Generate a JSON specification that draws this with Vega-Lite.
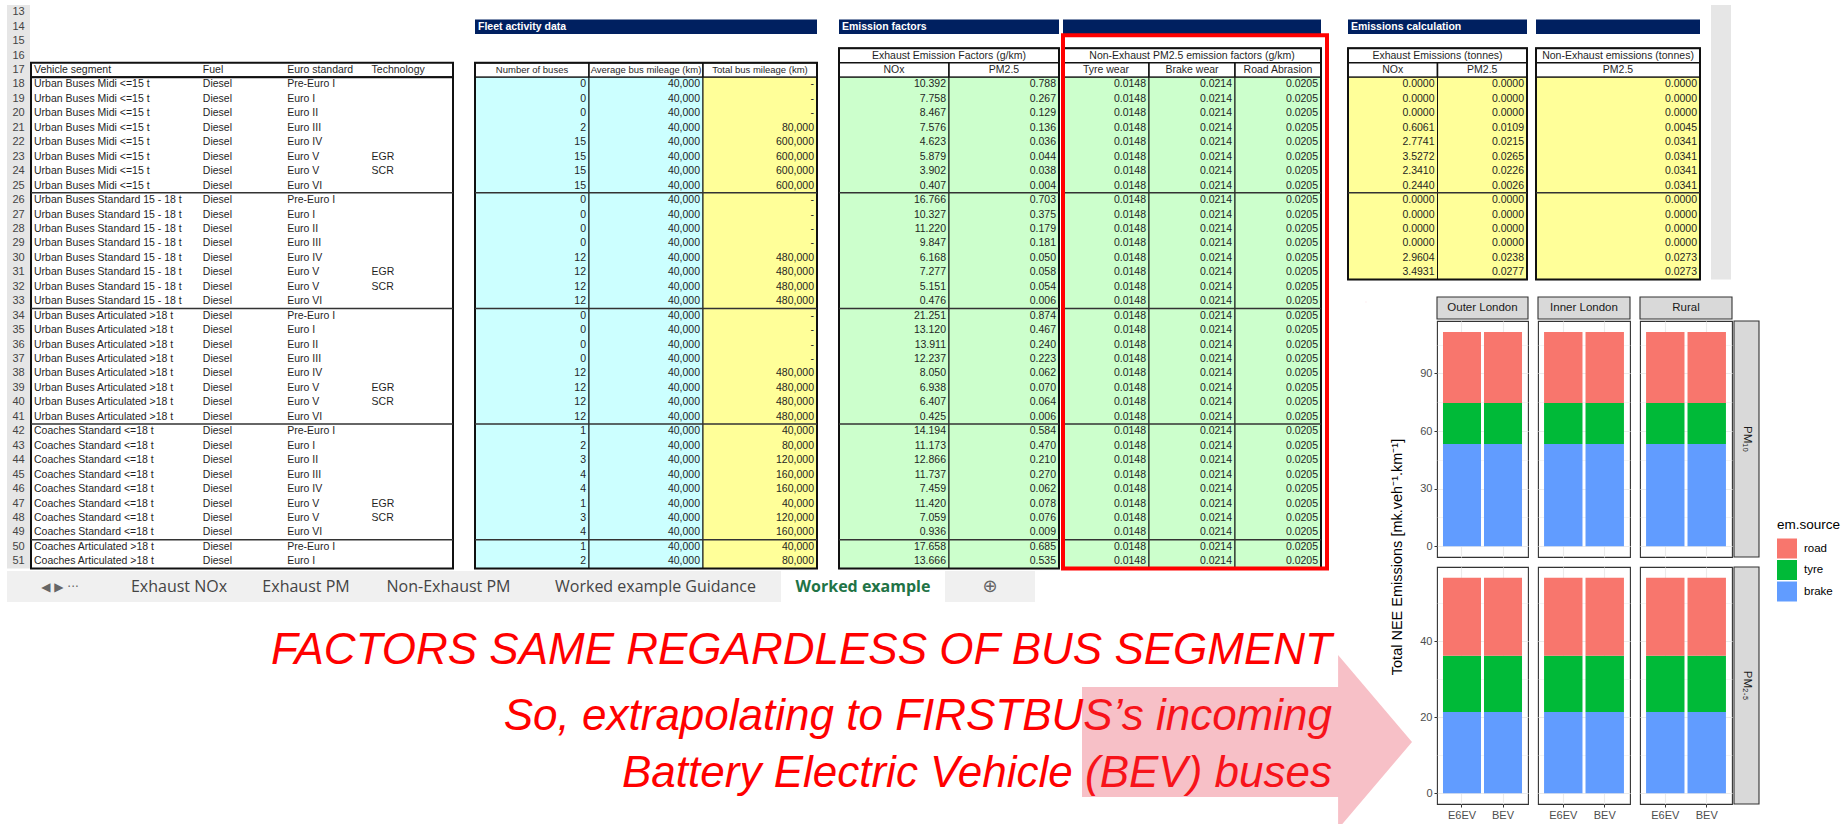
{
"$schema": "https://vega.github.io/schema/vega-lite/v6.json",
"background": "white",
"padding": {"left": 7, "top": 5, "right": 0, "bottom": 0},
"config": {"view": {"stroke": null}, "font": "Liberation Sans"},
"datasets": {
"table": [
{"row":18,"seg":"Urban Buses Midi <=15 t","fuel":"Diesel","euro":"Pre-Euro I","tech":"","nbus":"0","avgmil":"40,000","totmil":"-","nox":"10.392","pm":"0.788","tyre":"0.0148","brake":"0.0214","road":"0.0205","enox":"0.0000","epm":"0.0000","nepm":"0.0000"},
{"row":19,"seg":"Urban Buses Midi <=15 t","fuel":"Diesel","euro":"Euro I","tech":"","nbus":"0","avgmil":"40,000","totmil":"-","nox":"7.758","pm":"0.267","tyre":"0.0148","brake":"0.0214","road":"0.0205","enox":"0.0000","epm":"0.0000","nepm":"0.0000"},
{"row":20,"seg":"Urban Buses Midi <=15 t","fuel":"Diesel","euro":"Euro II","tech":"","nbus":"0","avgmil":"40,000","totmil":"-","nox":"8.467","pm":"0.129","tyre":"0.0148","brake":"0.0214","road":"0.0205","enox":"0.0000","epm":"0.0000","nepm":"0.0000"},
{"row":21,"seg":"Urban Buses Midi <=15 t","fuel":"Diesel","euro":"Euro III","tech":"","nbus":"2","avgmil":"40,000","totmil":"80,000","nox":"7.576","pm":"0.136","tyre":"0.0148","brake":"0.0214","road":"0.0205","enox":"0.6061","epm":"0.0109","nepm":"0.0045"},
{"row":22,"seg":"Urban Buses Midi <=15 t","fuel":"Diesel","euro":"Euro IV","tech":"","nbus":"15","avgmil":"40,000","totmil":"600,000","nox":"4.623","pm":"0.036","tyre":"0.0148","brake":"0.0214","road":"0.0205","enox":"2.7741","epm":"0.0215","nepm":"0.0341"},
{"row":23,"seg":"Urban Buses Midi <=15 t","fuel":"Diesel","euro":"Euro V","tech":"EGR","nbus":"15","avgmil":"40,000","totmil":"600,000","nox":"5.879","pm":"0.044","tyre":"0.0148","brake":"0.0214","road":"0.0205","enox":"3.5272","epm":"0.0265","nepm":"0.0341"},
{"row":24,"seg":"Urban Buses Midi <=15 t","fuel":"Diesel","euro":"Euro V","tech":"SCR","nbus":"15","avgmil":"40,000","totmil":"600,000","nox":"3.902","pm":"0.038","tyre":"0.0148","brake":"0.0214","road":"0.0205","enox":"2.3410","epm":"0.0226","nepm":"0.0341"},
{"row":25,"seg":"Urban Buses Midi <=15 t","fuel":"Diesel","euro":"Euro VI","tech":"","nbus":"15","avgmil":"40,000","totmil":"600,000","nox":"0.407","pm":"0.004","tyre":"0.0148","brake":"0.0214","road":"0.0205","enox":"0.2440","epm":"0.0026","nepm":"0.0341"},
{"row":26,"seg":"Urban Buses Standard 15 - 18 t","fuel":"Diesel","euro":"Pre-Euro I","tech":"","nbus":"0","avgmil":"40,000","totmil":"-","nox":"16.766","pm":"0.703","tyre":"0.0148","brake":"0.0214","road":"0.0205","enox":"0.0000","epm":"0.0000","nepm":"0.0000"},
{"row":27,"seg":"Urban Buses Standard 15 - 18 t","fuel":"Diesel","euro":"Euro I","tech":"","nbus":"0","avgmil":"40,000","totmil":"-","nox":"10.327","pm":"0.375","tyre":"0.0148","brake":"0.0214","road":"0.0205","enox":"0.0000","epm":"0.0000","nepm":"0.0000"},
{"row":28,"seg":"Urban Buses Standard 15 - 18 t","fuel":"Diesel","euro":"Euro II","tech":"","nbus":"0","avgmil":"40,000","totmil":"-","nox":"11.220","pm":"0.179","tyre":"0.0148","brake":"0.0214","road":"0.0205","enox":"0.0000","epm":"0.0000","nepm":"0.0000"},
{"row":29,"seg":"Urban Buses Standard 15 - 18 t","fuel":"Diesel","euro":"Euro III","tech":"","nbus":"0","avgmil":"40,000","totmil":"-","nox":"9.847","pm":"0.181","tyre":"0.0148","brake":"0.0214","road":"0.0205","enox":"0.0000","epm":"0.0000","nepm":"0.0000"},
{"row":30,"seg":"Urban Buses Standard 15 - 18 t","fuel":"Diesel","euro":"Euro IV","tech":"","nbus":"12","avgmil":"40,000","totmil":"480,000","nox":"6.168","pm":"0.050","tyre":"0.0148","brake":"0.0214","road":"0.0205","enox":"2.9604","epm":"0.0238","nepm":"0.0273"},
{"row":31,"seg":"Urban Buses Standard 15 - 18 t","fuel":"Diesel","euro":"Euro V","tech":"EGR","nbus":"12","avgmil":"40,000","totmil":"480,000","nox":"7.277","pm":"0.058","tyre":"0.0148","brake":"0.0214","road":"0.0205","enox":"3.4931","epm":"0.0277","nepm":"0.0273"},
{"row":32,"seg":"Urban Buses Standard 15 - 18 t","fuel":"Diesel","euro":"Euro V","tech":"SCR","nbus":"12","avgmil":"40,000","totmil":"480,000","nox":"5.151","pm":"0.054","tyre":"0.0148","brake":"0.0214","road":"0.0205"},
{"row":33,"seg":"Urban Buses Standard 15 - 18 t","fuel":"Diesel","euro":"Euro VI","tech":"","nbus":"12","avgmil":"40,000","totmil":"480,000","nox":"0.476","pm":"0.006","tyre":"0.0148","brake":"0.0214","road":"0.0205"},
{"row":34,"seg":"Urban Buses Articulated >18 t","fuel":"Diesel","euro":"Pre-Euro I","tech":"","nbus":"0","avgmil":"40,000","totmil":"-","nox":"21.251","pm":"0.874","tyre":"0.0148","brake":"0.0214","road":"0.0205"},
{"row":35,"seg":"Urban Buses Articulated >18 t","fuel":"Diesel","euro":"Euro I","tech":"","nbus":"0","avgmil":"40,000","totmil":"-","nox":"13.120","pm":"0.467","tyre":"0.0148","brake":"0.0214","road":"0.0205"},
{"row":36,"seg":"Urban Buses Articulated >18 t","fuel":"Diesel","euro":"Euro II","tech":"","nbus":"0","avgmil":"40,000","totmil":"-","nox":"13.911","pm":"0.240","tyre":"0.0148","brake":"0.0214","road":"0.0205"},
{"row":37,"seg":"Urban Buses Articulated >18 t","fuel":"Diesel","euro":"Euro III","tech":"","nbus":"0","avgmil":"40,000","totmil":"-","nox":"12.237","pm":"0.223","tyre":"0.0148","brake":"0.0214","road":"0.0205"},
{"row":38,"seg":"Urban Buses Articulated >18 t","fuel":"Diesel","euro":"Euro IV","tech":"","nbus":"12","avgmil":"40,000","totmil":"480,000","nox":"8.050","pm":"0.062","tyre":"0.0148","brake":"0.0214","road":"0.0205"},
{"row":39,"seg":"Urban Buses Articulated >18 t","fuel":"Diesel","euro":"Euro V","tech":"EGR","nbus":"12","avgmil":"40,000","totmil":"480,000","nox":"6.938","pm":"0.070","tyre":"0.0148","brake":"0.0214","road":"0.0205"},
{"row":40,"seg":"Urban Buses Articulated >18 t","fuel":"Diesel","euro":"Euro V","tech":"SCR","nbus":"12","avgmil":"40,000","totmil":"480,000","nox":"6.407","pm":"0.064","tyre":"0.0148","brake":"0.0214","road":"0.0205"},
{"row":41,"seg":"Urban Buses Articulated >18 t","fuel":"Diesel","euro":"Euro VI","tech":"","nbus":"12","avgmil":"40,000","totmil":"480,000","nox":"0.425","pm":"0.006","tyre":"0.0148","brake":"0.0214","road":"0.0205"},
{"row":42,"seg":"Coaches Standard <=18 t","fuel":"Diesel","euro":"Pre-Euro I","tech":"","nbus":"1","avgmil":"40,000","totmil":"40,000","nox":"14.194","pm":"0.584","tyre":"0.0148","brake":"0.0214","road":"0.0205"},
{"row":43,"seg":"Coaches Standard <=18 t","fuel":"Diesel","euro":"Euro I","tech":"","nbus":"2","avgmil":"40,000","totmil":"80,000","nox":"11.173","pm":"0.470","tyre":"0.0148","brake":"0.0214","road":"0.0205"},
{"row":44,"seg":"Coaches Standard <=18 t","fuel":"Diesel","euro":"Euro II","tech":"","nbus":"3","avgmil":"40,000","totmil":"120,000","nox":"12.866","pm":"0.210","tyre":"0.0148","brake":"0.0214","road":"0.0205"},
{"row":45,"seg":"Coaches Standard <=18 t","fuel":"Diesel","euro":"Euro III","tech":"","nbus":"4","avgmil":"40,000","totmil":"160,000","nox":"11.737","pm":"0.270","tyre":"0.0148","brake":"0.0214","road":"0.0205"},
{"row":46,"seg":"Coaches Standard <=18 t","fuel":"Diesel","euro":"Euro IV","tech":"","nbus":"4","avgmil":"40,000","totmil":"160,000","nox":"7.459","pm":"0.062","tyre":"0.0148","brake":"0.0214","road":"0.0205"},
{"row":47,"seg":"Coaches Standard <=18 t","fuel":"Diesel","euro":"Euro V","tech":"EGR","nbus":"1","avgmil":"40,000","totmil":"40,000","nox":"11.420","pm":"0.078","tyre":"0.0148","brake":"0.0214","road":"0.0205"},
{"row":48,"seg":"Coaches Standard <=18 t","fuel":"Diesel","euro":"Euro V","tech":"SCR","nbus":"3","avgmil":"40,000","totmil":"120,000","nox":"7.059","pm":"0.076","tyre":"0.0148","brake":"0.0214","road":"0.0205"},
{"row":49,"seg":"Coaches Standard <=18 t","fuel":"Diesel","euro":"Euro VI","tech":"","nbus":"4","avgmil":"40,000","totmil":"160,000","nox":"0.936","pm":"0.009","tyre":"0.0148","brake":"0.0214","road":"0.0205"},
{"row":50,"seg":"Coaches Articulated >18 t","fuel":"Diesel","euro":"Pre-Euro I","tech":"","nbus":"1","avgmil":"40,000","totmil":"40,000","nox":"17.658","pm":"0.685","tyre":"0.0148","brake":"0.0214","road":"0.0205"},
{"row":51,"seg":"Coaches Articulated >18 t","fuel":"Diesel","euro":"Euro I","tech":"","nbus":"2","avgmil":"40,000","totmil":"80,000","nox":"13.666","pm":"0.535","tyre":"0.0148","brake":"0.0214","road":"0.0205"}
],
"headers": [
{"sec":"a","col":"seg","label":"Vehicle segment"},{"sec":"a","col":"fuel","label":"Fuel"},{"sec":"a","col":"euro","label":"Euro standard"},{"sec":"a","col":"tech","label":"Technology"},
{"sec":"fleet","col":"nbus","label":"Number of buses"},{"sec":"fleet","col":"avgmil","label":"Average bus mileage (km)"},{"sec":"fleet","col":"totmil","label":"Total bus mileage (km)"},
{"sec":"exh","col":"nox","label":"NOx"},{"sec":"exh","col":"pm","label":"PM2.5"},
{"sec":"ne","col":"tyre","label":"Tyre wear"},{"sec":"ne","col":"brake","label":"Brake wear"},{"sec":"ne","col":"road","label":"Road Abrasion"},
{"sec":"ec1","col":"enox","label":"NOx"},{"sec":"ec1","col":"epm","label":"PM2.5"},
{"sec":"ec2","col":"nepm","label":"PM2.5"}
],
"nee": [
{"region":"Outer London","pm":"PM10","veh":"E6EV","src":"brake","val":53.2},{"region":"Outer London","pm":"PM10","veh":"E6EV","src":"tyre","val":21.4},{"region":"Outer London","pm":"PM10","veh":"E6EV","src":"road","val":37.0},
{"region":"Outer London","pm":"PM10","veh":"BEV","src":"brake","val":53.2},{"region":"Outer London","pm":"PM10","veh":"BEV","src":"tyre","val":21.4},{"region":"Outer London","pm":"PM10","veh":"BEV","src":"road","val":37.0},
{"region":"Inner London","pm":"PM10","veh":"E6EV","src":"brake","val":53.2},{"region":"Inner London","pm":"PM10","veh":"E6EV","src":"tyre","val":21.4},{"region":"Inner London","pm":"PM10","veh":"E6EV","src":"road","val":37.0},
{"region":"Inner London","pm":"PM10","veh":"BEV","src":"brake","val":53.2},{"region":"Inner London","pm":"PM10","veh":"BEV","src":"tyre","val":21.4},{"region":"Inner London","pm":"PM10","veh":"BEV","src":"road","val":37.0},
{"region":"Rural","pm":"PM10","veh":"E6EV","src":"brake","val":53.2},{"region":"Rural","pm":"PM10","veh":"E6EV","src":"tyre","val":21.4},{"region":"Rural","pm":"PM10","veh":"E6EV","src":"road","val":37.0},
{"region":"Rural","pm":"PM10","veh":"BEV","src":"brake","val":53.2},{"region":"Rural","pm":"PM10","veh":"BEV","src":"tyre","val":21.4},{"region":"Rural","pm":"PM10","veh":"BEV","src":"road","val":37.0},
{"region":"Outer London","pm":"PM2.5","veh":"E6EV","src":"brake","val":21.4},{"region":"Outer London","pm":"PM2.5","veh":"E6EV","src":"tyre","val":14.8},{"region":"Outer London","pm":"PM2.5","veh":"E6EV","src":"road","val":20.5},
{"region":"Outer London","pm":"PM2.5","veh":"BEV","src":"brake","val":21.4},{"region":"Outer London","pm":"PM2.5","veh":"BEV","src":"tyre","val":14.8},{"region":"Outer London","pm":"PM2.5","veh":"BEV","src":"road","val":20.5},
{"region":"Inner London","pm":"PM2.5","veh":"E6EV","src":"brake","val":21.4},{"region":"Inner London","pm":"PM2.5","veh":"E6EV","src":"tyre","val":14.8},{"region":"Inner London","pm":"PM2.5","veh":"E6EV","src":"road","val":20.5},
{"region":"Inner London","pm":"PM2.5","veh":"BEV","src":"brake","val":21.4},{"region":"Inner London","pm":"PM2.5","veh":"BEV","src":"tyre","val":14.8},{"region":"Inner London","pm":"PM2.5","veh":"BEV","src":"road","val":20.5},
{"region":"Rural","pm":"PM2.5","veh":"E6EV","src":"brake","val":21.4},{"region":"Rural","pm":"PM2.5","veh":"E6EV","src":"tyre","val":14.8},{"region":"Rural","pm":"PM2.5","veh":"E6EV","src":"road","val":20.5},
{"region":"Rural","pm":"PM2.5","veh":"BEV","src":"brake","val":21.4},{"region":"Rural","pm":"PM2.5","veh":"BEV","src":"tyre","val":14.8},{"region":"Rural","pm":"PM2.5","veh":"BEV","src":"road","val":20.5}
]
},
"spacing": 15,
"hconcat": [
{
"spacing": 0,
"title": {"text": "FACTORS SAME REGARDLESS OF BUS SEGMENT", "subtitle": ["So, extrapolating to FIRSTBUS’s incoming", "Battery Electric Vehicle (BEV) buses"], "orient": "bottom", "anchor": "end", "offset": 27, "dx": 3, "font": "Liberation Sans", "fontSize": 44, "fontStyle": "italic", "fontWeight": "normal", "color": "#FF0000", "lineHeight": 44, "subtitleFont": "Liberation Sans", "subtitleFontSize": 44, "subtitleFontStyle": "italic", "subtitleFontWeight": "normal", "subtitleColor": "#FF0000", "subtitleLineHeight": 57, "subtitlePadding": 22},
"vconcat": [
{
"spacing": 20,
"hconcat": [
{"spacing": 0, "hconcat": [
{"width": 23, "height": 563.55, "view": {"fill": "#E6E6E6", "stroke": null},
 "layer": [
 {"data": {"name": "table"}, "mark": {"type": "text", "fontSize": 11, "color": "#444444"}, "encoding": {"y": {"field": "row", "type": "ordinal", "scale": {"type": "band", "domain": [13,14,15,16,17,18,19,20,21,22,23,24,25,26,27,28,29,30,31,32,33,34,35,36,37,38,39,40,41,42,43,44,45,46,47,48,49,50,51], "paddingInner": 0, "paddingOuter": 0}, "axis": null}, "text": {"field": "row", "type": "nominal"}}},
 {"data": {"values": [{"row": 13}, {"row": 14}, {"row": 15}, {"row": 16}, {"row": 17}]}, "mark": {"type": "text", "fontSize": 11, "color": "#444444"}, "encoding": {"y": {"field": "row", "type": "ordinal", "axis": null}, "text": {"field": "row", "type": "nominal"}}}
 ]},
{"width": 422, "height": 563.55,
 "layer": [
 {"data": {"values": [{}]}, "mark": {"type": "rect", "fill": "#FFFFFF", "stroke": "#111111", "strokeWidth": 2}, "encoding": {"y": {"datum": 17, "type": "ordinal", "scale": {"type": "band", "domain": [13,14,15,16,17,18,19,20,21,22,23,24,25,26,27,28,29,30,31,32,33,34,35,36,37,38,39,40,41,42,43,44,45,46,47,48,49,50,51], "paddingInner": 0, "paddingOuter": 0}, "axis": null}}},
 {"data": {"name": "headers"}, "transform": [{"filter": "datum.sec === 'a'"}], "mark": {"type": "text", "align": "left", "dx": 3, "fontSize": 10.5, "color": "#1F1F1F"}, "encoding": {"x": {"field": "col", "type": "nominal", "bandPosition": 0, "scale": {"type": "band", "domain": ["seg","seg2","fuel","euro","tech"], "paddingInner": 0, "paddingOuter": 0}, "axis": null}, "y": {"datum": 17, "type": "ordinal", "axis": null}, "text": {"field": "label"}}},
 {"data": {"values": [{}]}, "mark": {"type": "rect", "fill": "#FFFFFF", "stroke": "#111111", "strokeWidth": 2}, "encoding": {"y": {"datum": 18, "type": "ordinal", "bandPosition": 0, "axis": null}, "y2": {"datum": 51, "bandPosition": 1}}},
 {"data": {"name": "table"}, "transform": [{"filter": "datum.euro === 'Pre-Euro I' && datum.row > 18"}], "mark": {"type": "rule", "stroke": "#333333", "strokeWidth": 1.5}, "encoding": {"y": {"field": "row", "type": "ordinal", "bandPosition": 0, "axis": null}}},
 {"data": {"name": "table"}, "transform": [{"fold": ["seg","fuel","euro","tech"], "as": ["col","val"]}], "mark": {"type": "text", "align": "left", "dx": 3, "fontSize": 10.5, "color": "#1F1F1F"}, "encoding": {"x": {"field": "col", "type": "nominal", "bandPosition": 0, "axis": null}, "y": {"field": "row", "type": "ordinal", "axis": null}, "text": {"field": "val", "type": "nominal"}}}
 ]}
]},
{"width": 342, "height": 563.55,
 "layer": [
 {"data": {"values": [{}]}, "mark": {"type": "rect", "fill": "#002060"}, "encoding": {"y": {"datum": 14, "type": "ordinal", "scale": {"type": "band", "domain": [13,14,15,16,17,18,19,20,21,22,23,24,25,26,27,28,29,30,31,32,33,34,35,36,37,38,39,40,41,42,43,44,45,46,47,48,49,50,51], "paddingInner": 0, "paddingOuter": 0}, "axis": null}}},
 {"data": {"values": [{}]}, "mark": {"type": "text", "align": "left", "dx": 3, "fill": "#FFFFFF", "fontWeight": "bold", "fontSize": 10.5}, "encoding": {"x": {"datum": "nbus", "type": "nominal", "bandPosition": 0, "scale": {"type": "band", "domain": ["nbus","avgmil","totmil"], "paddingInner": 0, "paddingOuter": 0}, "axis": null}, "y": {"datum": 14, "type": "ordinal", "axis": null}, "text": {"value": "Fleet activity data"}}},
 {"data": {"name": "headers"}, "transform": [{"filter": "datum.sec === 'fleet'"}], "mark": {"type": "rect", "fill": "#FFFFFF", "stroke": "#111111", "strokeWidth": 1.5}, "encoding": {"x": {"field": "col", "type": "nominal", "axis": null}, "y": {"datum": 17, "type": "ordinal", "axis": null}}},
 {"data": {"name": "headers"}, "transform": [{"filter": "datum.sec === 'fleet'"}], "mark": {"type": "text", "fontSize": 9.5, "color": "#1F1F1F"}, "encoding": {"x": {"field": "col", "type": "nominal", "axis": null}, "y": {"datum": 17, "type": "ordinal", "axis": null}, "text": {"field": "label"}}},
 {"data": {"name": "headers"}, "transform": [{"filter": "datum.sec === 'fleet'"}], "mark": {"type": "rect", "stroke": "#111111", "strokeWidth": 1}, "encoding": {"x": {"field": "col", "type": "nominal", "axis": null}, "y": {"datum": 18, "type": "ordinal", "bandPosition": 0, "axis": null}, "y2": {"datum": 51, "bandPosition": 1}, "fill": {"condition": {"test": "datum.col === 'totmil'", "value": "#FFFF99"}, "value": "#CCFFFF"}}},
 {"data": {"values": [{}]}, "mark": {"type": "rect", "fill": "transparent", "stroke": "#111111", "strokeWidth": 2}, "encoding": {"y": {"datum": 17, "type": "ordinal", "bandPosition": 0, "axis": null}, "y2": {"datum": 51, "bandPosition": 1}}},
 {"data": {"name": "table"}, "transform": [{"filter": "datum.euro === 'Pre-Euro I' && datum.row > 18"}], "mark": {"type": "rule", "stroke": "#333333", "strokeWidth": 1.5}, "encoding": {"y": {"field": "row", "type": "ordinal", "bandPosition": 0, "axis": null}}},
 {"data": {"name": "table"}, "transform": [{"fold": ["nbus","avgmil","totmil"], "as": ["col","val"]}], "mark": {"type": "text", "align": "right", "dx": -3, "fontSize": 10.5, "color": "#1F1F1F"}, "encoding": {"x": {"field": "col", "type": "nominal", "bandPosition": 1, "axis": null}, "y": {"field": "row", "type": "ordinal", "axis": null}, "text": {"field": "val", "type": "nominal"}}}
 ]},
{"spacing": 1, "hconcat": [
{"width": 220, "height": 563.55,
 "layer": [
 {"data": {"values": [{}]}, "mark": {"type": "rect", "fill": "#002060"}, "encoding": {"y": {"datum": 14, "type": "ordinal", "scale": {"type": "band", "domain": [13,14,15,16,17,18,19,20,21,22,23,24,25,26,27,28,29,30,31,32,33,34,35,36,37,38,39,40,41,42,43,44,45,46,47,48,49,50,51], "paddingInner": 0, "paddingOuter": 0}, "axis": null}}},
 {"data": {"values": [{}]}, "mark": {"type": "text", "align": "left", "dx": 3, "fill": "#FFFFFF", "fontWeight": "bold", "fontSize": 10.5}, "encoding": {"x": {"datum": "nox", "type": "nominal", "bandPosition": 0, "scale": {"type": "band", "domain": ["nox","pm"], "paddingInner": 0, "paddingOuter": 0}, "axis": null}, "y": {"datum": 14, "type": "ordinal", "axis": null}, "text": {"value": "Emission factors"}}},
 {"data": {"values": [{}]}, "mark": {"type": "rect", "fill": "#FFFFFF", "stroke": "#111111", "strokeWidth": 1.5}, "encoding": {"y": {"datum": 16, "type": "ordinal", "axis": null}}},
 {"data": {"values": [{}]}, "mark": {"type": "text", "fontSize": 10.5, "color": "#1F1F1F"}, "encoding": {"y": {"datum": 16, "type": "ordinal", "axis": null}, "text": {"value": "Exhaust Emission Factors (g/km)"}}},
 {"data": {"name": "headers"}, "transform": [{"filter": "datum.sec === 'exh'"}], "mark": {"type": "rect", "fill": "#FFFFFF", "stroke": "#111111", "strokeWidth": 1.5}, "encoding": {"x": {"field": "col", "type": "nominal", "axis": null}, "y": {"datum": 17, "type": "ordinal", "axis": null}}},
 {"data": {"name": "headers"}, "transform": [{"filter": "datum.sec === 'exh'"}], "mark": {"type": "text", "fontSize": 10.5, "color": "#1F1F1F"}, "encoding": {"x": {"field": "col", "type": "nominal", "axis": null}, "y": {"datum": 17, "type": "ordinal", "axis": null}, "text": {"field": "label"}}},
 {"data": {"name": "headers"}, "transform": [{"filter": "datum.sec === 'exh'"}], "mark": {"type": "rect", "stroke": "#111111", "strokeWidth": 1, "fill": "#CCFFCC"}, "encoding": {"x": {"field": "col", "type": "nominal", "axis": null}, "y": {"datum": 18, "type": "ordinal", "bandPosition": 0, "axis": null}, "y2": {"datum": 51, "bandPosition": 1}}},
 {"data": {"values": [{}]}, "mark": {"type": "rect", "fill": "transparent", "stroke": "#111111", "strokeWidth": 2}, "encoding": {"y": {"datum": 16, "type": "ordinal", "bandPosition": 0, "axis": null}, "y2": {"datum": 51, "bandPosition": 1}}},
 {"data": {"name": "table"}, "transform": [{"filter": "datum.euro === 'Pre-Euro I' && datum.row > 18"}], "mark": {"type": "rule", "stroke": "#333333", "strokeWidth": 1.5}, "encoding": {"y": {"field": "row", "type": "ordinal", "bandPosition": 0, "axis": null}}},
 {"data": {"name": "table"}, "transform": [{"fold": ["nox","pm"], "as": ["col","val"]}], "mark": {"type": "text", "align": "right", "dx": -3, "fontSize": 10.5, "color": "#1F1F1F"}, "encoding": {"x": {"field": "col", "type": "nominal", "bandPosition": 1, "axis": null}, "y": {"field": "row", "type": "ordinal", "axis": null}, "text": {"field": "val", "type": "nominal"}}}
 ]},
{"width": 258, "height": 563.55,
 "layer": [
 {"data": {"values": [{}]}, "mark": {"type": "rect", "fill": "#002060"}, "encoding": {"y": {"datum": 14, "type": "ordinal", "scale": {"type": "band", "domain": [13,14,15,16,17,18,19,20,21,22,23,24,25,26,27,28,29,30,31,32,33,34,35,36,37,38,39,40,41,42,43,44,45,46,47,48,49,50,51], "paddingInner": 0, "paddingOuter": 0}, "axis": null}}},
 {"data": {"values": [{}]}, "mark": {"type": "rect", "fill": "#FFFFFF", "stroke": "#111111", "strokeWidth": 1.5}, "encoding": {"y": {"datum": 16, "type": "ordinal", "axis": null}}},
 {"data": {"values": [{}]}, "mark": {"type": "text", "fontSize": 10.5, "color": "#1F1F1F"}, "encoding": {"y": {"datum": 16, "type": "ordinal", "axis": null}, "text": {"value": "Non-Exhaust PM2.5 emission factors (g/km)"}}},
 {"data": {"name": "headers"}, "transform": [{"filter": "datum.sec === 'ne'"}], "mark": {"type": "rect", "fill": "#FFFFFF", "stroke": "#111111", "strokeWidth": 1.5}, "encoding": {"x": {"field": "col", "type": "nominal", "scale": {"type": "band", "domain": ["tyre","brake","road"], "paddingInner": 0, "paddingOuter": 0}, "axis": null}, "y": {"datum": 17, "type": "ordinal", "axis": null}}},
 {"data": {"name": "headers"}, "transform": [{"filter": "datum.sec === 'ne'"}], "mark": {"type": "text", "fontSize": 10.5, "color": "#1F1F1F"}, "encoding": {"x": {"field": "col", "type": "nominal", "axis": null}, "y": {"datum": 17, "type": "ordinal", "axis": null}, "text": {"field": "label"}}},
 {"data": {"name": "headers"}, "transform": [{"filter": "datum.sec === 'ne'"}], "mark": {"type": "rect", "stroke": "#111111", "strokeWidth": 1, "fill": "#CCFFCC"}, "encoding": {"x": {"field": "col", "type": "nominal", "axis": null}, "y": {"datum": 18, "type": "ordinal", "bandPosition": 0, "axis": null}, "y2": {"datum": 51, "bandPosition": 1}}},
 {"data": {"values": [{}]}, "mark": {"type": "rect", "fill": "transparent", "stroke": "#111111", "strokeWidth": 2}, "encoding": {"y": {"datum": 16, "type": "ordinal", "bandPosition": 0, "axis": null}, "y2": {"datum": 51, "bandPosition": 1}}},
 {"data": {"name": "table"}, "transform": [{"filter": "datum.euro === 'Pre-Euro I' && datum.row > 18"}], "mark": {"type": "rule", "stroke": "#333333", "strokeWidth": 1.5}, "encoding": {"y": {"field": "row", "type": "ordinal", "bandPosition": 0, "axis": null}}},
 {"data": {"name": "table"}, "transform": [{"fold": ["tyre","brake","road"], "as": ["col","val"]}], "mark": {"type": "text", "align": "right", "dx": -3, "fontSize": 10.5, "color": "#1F1F1F"}, "encoding": {"x": {"field": "col", "type": "nominal", "bandPosition": 1, "axis": null}, "y": {"field": "row", "type": "ordinal", "axis": null}, "text": {"field": "val", "type": "nominal"}}},
 {"data": {"values": [{}]}, "mark": {"type": "rect", "fill": "transparent", "stroke": "#FF0000", "strokeWidth": 4, "xOffset": 6, "x2Offset": -6}, "encoding": {"y": {"datum": 15, "type": "ordinal", "bandPosition": 0.1, "axis": null}, "y2": {"datum": 51, "bandPosition": 1}}}
 ]}
]}
]
},
{"spacing": 0, "hconcat": [
 {"width": 106, "height": 31, "view": {"fill": "#F0F0F0", "stroke": null}, "data": {"values": [{"t": "◀     ▶     ···"}]}, "mark": {"type": "text", "font": "DejaVu Sans", "fontSize": 12, "color": "#666666"}, "encoding": {"text": {"field": "t"}}},
 {"width": 132, "height": 31, "view": {"fill": "#F0F0F0", "stroke": null}, "data": {"values": [{"t": "Exhaust NOx"}]}, "mark": {"type": "text", "font": "Open Sans", "fontSize": 16, "color": "#444444"}, "encoding": {"text": {"field": "t"}}},
 {"width": 122, "height": 31, "view": {"fill": "#F0F0F0", "stroke": null}, "data": {"values": [{"t": "Exhaust PM"}]}, "mark": {"type": "text", "font": "Open Sans", "fontSize": 16, "color": "#444444"}, "encoding": {"text": {"field": "t"}}},
 {"width": 163, "height": 31, "view": {"fill": "#F0F0F0", "stroke": null}, "data": {"values": [{"t": "Non-Exhaust PM"}]}, "mark": {"type": "text", "font": "Open Sans", "fontSize": 16, "color": "#444444"}, "encoding": {"text": {"field": "t"}}},
 {"width": 251, "height": 31, "view": {"fill": "#F0F0F0", "stroke": null}, "data": {"values": [{"t": "Worked example Guidance"}]}, "mark": {"type": "text", "font": "Open Sans", "fontSize": 16, "color": "#444444"}, "encoding": {"text": {"field": "t"}}},
 {"width": 164, "height": 31, "view": {"fill": "#FFFFFF", "stroke": null}, "data": {"values": [{"t": "Worked example"}]}, "mark": {"type": "text", "font": "Open Sans", "fontSize": 16, "fontWeight": "bold", "color": "#217346"}, "encoding": {"text": {"field": "t"}}},
 {"width": 90, "height": 31, "view": {"fill": "#F0F0F0", "stroke": null}, "data": {"values": [{"t": "⊕"}]}, "mark": {"type": "text", "font": "DejaVu Sans", "fontSize": 18, "color": "#666666"}, "encoding": {"text": {"field": "t"}}}
]}
]
},
{
"spacing": 15,
"vconcat": [
{"spacing": 7, "hconcat": [
{"width": 179, "height": 274.55,
 "layer": [
 {"data": {"values": [{}]}, "mark": {"type": "rect", "fill": "#002060"}, "encoding": {"y": {"datum": 14, "type": "ordinal", "scale": {"type": "band", "domain": [13,14,15,16,17,18,19,20,21,22,23,24,25,26,27,28,29,30,31], "paddingInner": 0, "paddingOuter": 0}, "axis": null}}},
 {"data": {"values": [{}]}, "mark": {"type": "text", "align": "left", "dx": 3, "fill": "#FFFFFF", "fontWeight": "bold", "fontSize": 10.5}, "encoding": {"x": {"datum": "enox", "type": "nominal", "bandPosition": 0, "scale": {"type": "band", "domain": ["enox","epm"], "paddingInner": 0, "paddingOuter": 0}, "axis": null}, "y": {"datum": 14, "type": "ordinal", "axis": null}, "text": {"value": "Emissions calculation"}}},
 {"data": {"values": [{}]}, "mark": {"type": "rect", "fill": "#FFFFFF", "stroke": "#111111", "strokeWidth": 1.5}, "encoding": {"y": {"datum": 16, "type": "ordinal", "axis": null}}},
 {"data": {"values": [{}]}, "mark": {"type": "text", "fontSize": 10.5, "color": "#1F1F1F"}, "encoding": {"y": {"datum": 16, "type": "ordinal", "axis": null}, "text": {"value": "Exhaust Emissions (tonnes)"}}},
 {"data": {"name": "headers"}, "transform": [{"filter": "datum.sec === 'ec1'"}], "mark": {"type": "rect", "fill": "#FFFFFF", "stroke": "#111111", "strokeWidth": 1.5}, "encoding": {"x": {"field": "col", "type": "nominal", "axis": null}, "y": {"datum": 17, "type": "ordinal", "axis": null}}},
 {"data": {"name": "headers"}, "transform": [{"filter": "datum.sec === 'ec1'"}], "mark": {"type": "text", "fontSize": 10.5, "color": "#1F1F1F"}, "encoding": {"x": {"field": "col", "type": "nominal", "axis": null}, "y": {"datum": 17, "type": "ordinal", "axis": null}, "text": {"field": "label"}}},
 {"data": {"name": "headers"}, "transform": [{"filter": "datum.sec === 'ec1'"}], "mark": {"type": "rect", "stroke": "#111111", "strokeWidth": 1, "fill": "#FFFF99"}, "encoding": {"x": {"field": "col", "type": "nominal", "axis": null}, "y": {"datum": 18, "type": "ordinal", "bandPosition": 0, "axis": null}, "y2": {"datum": 31, "bandPosition": 1}}},
 {"data": {"values": [{}]}, "mark": {"type": "rect", "fill": "transparent", "stroke": "#111111", "strokeWidth": 2}, "encoding": {"y": {"datum": 16, "type": "ordinal", "bandPosition": 0, "axis": null}, "y2": {"datum": 31, "bandPosition": 1}}},
 {"data": {"name": "table"}, "transform": [{"filter": "datum.euro === 'Pre-Euro I' && datum.row > 18 && datum.row <= 31"}], "mark": {"type": "rule", "stroke": "#333333", "strokeWidth": 1.5}, "encoding": {"y": {"field": "row", "type": "ordinal", "bandPosition": 0, "axis": null}}},
 {"data": {"name": "table"}, "transform": [{"filter": "datum.row <= 31"}, {"fold": ["enox","epm"], "as": ["col","val"]}], "mark": {"type": "text", "align": "right", "dx": -3, "fontSize": 10.5, "color": "#1F1F1F"}, "encoding": {"x": {"field": "col", "type": "nominal", "bandPosition": 1, "axis": null}, "y": {"field": "row", "type": "ordinal", "axis": null}, "text": {"field": "val", "type": "nominal"}}}
 ]},
{"spacing": 10, "hconcat": [
{"width": 164, "height": 274.55,
 "layer": [
 {"data": {"values": [{}]}, "mark": {"type": "rect", "fill": "#002060"}, "encoding": {"y": {"datum": 14, "type": "ordinal", "scale": {"type": "band", "domain": [13,14,15,16,17,18,19,20,21,22,23,24,25,26,27,28,29,30,31], "paddingInner": 0, "paddingOuter": 0}, "axis": null}}},
 {"data": {"values": [{}]}, "mark": {"type": "rect", "fill": "#FFFFFF", "stroke": "#111111", "strokeWidth": 1.5}, "encoding": {"y": {"datum": 16, "type": "ordinal", "axis": null}}},
 {"data": {"values": [{}]}, "mark": {"type": "text", "fontSize": 10.5, "color": "#1F1F1F"}, "encoding": {"y": {"datum": 16, "type": "ordinal", "axis": null}, "text": {"value": "Non-Exhaust emissions (tonnes)"}}},
 {"data": {"name": "headers"}, "transform": [{"filter": "datum.sec === 'ec2'"}], "mark": {"type": "rect", "fill": "#FFFFFF", "stroke": "#111111", "strokeWidth": 1.5}, "encoding": {"x": {"field": "col", "type": "nominal", "scale": {"type": "band", "domain": ["nepm"], "paddingInner": 0, "paddingOuter": 0}, "axis": null}, "y": {"datum": 17, "type": "ordinal", "axis": null}}},
 {"data": {"name": "headers"}, "transform": [{"filter": "datum.sec === 'ec2'"}], "mark": {"type": "text", "fontSize": 10.5, "color": "#1F1F1F"}, "encoding": {"x": {"field": "col", "type": "nominal", "axis": null}, "y": {"datum": 17, "type": "ordinal", "axis": null}, "text": {"field": "label"}}},
 {"data": {"name": "headers"}, "transform": [{"filter": "datum.sec === 'ec2'"}], "mark": {"type": "rect", "stroke": "#111111", "strokeWidth": 1, "fill": "#FFFF99"}, "encoding": {"x": {"field": "col", "type": "nominal", "axis": null}, "y": {"datum": 18, "type": "ordinal", "bandPosition": 0, "axis": null}, "y2": {"datum": 31, "bandPosition": 1}}},
 {"data": {"values": [{}]}, "mark": {"type": "rect", "fill": "transparent", "stroke": "#111111", "strokeWidth": 2}, "encoding": {"y": {"datum": 16, "type": "ordinal", "bandPosition": 0, "axis": null}, "y2": {"datum": 31, "bandPosition": 1}}},
 {"data": {"name": "table"}, "transform": [{"filter": "datum.euro === 'Pre-Euro I' && datum.row > 18 && datum.row <= 31"}], "mark": {"type": "rule", "stroke": "#333333", "strokeWidth": 1.5}, "encoding": {"y": {"field": "row", "type": "ordinal", "bandPosition": 0, "axis": null}}},
 {"data": {"name": "table"}, "transform": [{"filter": "datum.row <= 31"}, {"fold": ["nepm"], "as": ["col","val"]}], "mark": {"type": "text", "align": "right", "dx": -3, "fontSize": 10.5, "color": "#1F1F1F"}, "encoding": {"x": {"field": "col", "type": "nominal", "bandPosition": 1, "axis": null}, "y": {"field": "row", "type": "ordinal", "axis": null}, "text": {"field": "val", "type": "nominal"}}}
 ]},
{"width": 20, "height": 274.55, "data": {"values": [{}]}, "mark": {"type": "rect", "fill": "#E6E6E6"}, "encoding": {}}
]}
]},
{"spacing": 0, "hconcat": [
 {"width": 36, "height": 10, "data": {"values": [{}]}, "mark": {"type": "point", "filled": true, "size": 1, "color": "#E63C50", "opacity": 0.32},
  "encoding": {"shape": {"datum": "arrow", "type": "nominal", "scale": {"domain": ["arrow"], "range": ["M-1,-0.333L0.552,-0.333L0.552,-0.527L1,0L0.552,0.527L0.552,0.333L-1,0.333Z"]}, "legend": {"title": null, "orient": "none", "legendX": 1075, "legendY": 572, "symbolSize": 108900, "symbolFillColor": "#E63C50", "symbolOpacity": 0.32, "symbolStrokeWidth": 0, "labelExpr": "''", "labelFontSize": 1, "padding": 0}}}},
 {"spacing": 7, "hconcat": [
  {"width": 28, "height": 520, "data": {"values": [{}]}, "mark": {"type": "text", "angle": 270, "fontSize": 14.5, "color": "#000000", "text": "Total NEE Emissions [mk.veh⁻¹.km⁻¹]"}, "encoding": {}},
  {"spacing": 0, "vconcat": [
   {"spacing": 8, "hconcat": [
    {"width": 91, "height": 22, "data": {"values": [{"lab": "Outer London", "v": 50}]}, "layer": [
      {"mark": {"type": "rect", "fill": "#D9D9D9", "stroke": "#333333", "strokeWidth": 1.1}, "encoding": {}},
      {"mark": {"type": "text", "fontSize": 11.5, "color": "#1A1A1A"}, "encoding": {"text": {"field": "lab"}}},
      {"mark": {"type": "point", "opacity": 0}, "encoding": {"y": {"field": "v", "type": "quantitative", "scale": {"domain": [40, 60]}, "axis": {"values": [50], "labelExpr": "'90'", "labelColor": "transparent", "tickColor": "transparent", "domain": false, "grid": false, "title": null, "tickSize": 3, "labelPadding": 2, "labelFontSize": 11}}}}
    ]},
    {"width": 92, "height": 22, "data": {"values": [{"lab": "Inner London"}]}, "layer": [
      {"mark": {"type": "rect", "fill": "#D9D9D9", "stroke": "#333333", "strokeWidth": 1.1}, "encoding": {}},
      {"mark": {"type": "text", "fontSize": 11.5, "color": "#1A1A1A"}, "encoding": {"text": {"field": "lab"}}}
    ]},
    {"width": 92, "height": 22, "data": {"values": [{"lab": "Rural"}]}, "layer": [
      {"mark": {"type": "rect", "fill": "#D9D9D9", "stroke": "#333333", "strokeWidth": 1.1}, "encoding": {}},
      {"mark": {"type": "text", "fontSize": 11.5, "color": "#1A1A1A"}, "encoding": {"text": {"field": "lab"}}}
    ]}
   ]},
   {"spacing": 8, "vconcat": [
    {"spacing": 8, "hconcat": [
     {"width": 91, "height": 236, "view": {"stroke": "#333333", "strokeWidth": 1.1}, "data": {"name": "nee"},
      "transform": [{"filter": "datum.region === 'Outer London' && datum.pm === 'PM10'"}, {"calculate": "indexof(['brake','tyre','road'], datum.src)", "as": "ord"}],
      "mark": {"type": "bar"},
      "encoding": {
       "x": {"field": "veh", "type": "nominal", "title": null, "scale": {"domain": ["E6EV","BEV"], "paddingInner": 0.073, "paddingOuter": 0.146}, "axis": {"grid": true, "gridColor": "#EBEBEB", "gridWidth": 1.1, "bandPosition": 0.5, "labels": false, "ticks": false, "domain": false, "title": null}},
       "y": {"field": "val", "type": "quantitative", "stack": "zero", "title": null, "scale": {"domain": [-5.585, 117.285], "nice": false, "zero": false}, "axis": {"values": [0,15,30,45,60,75,90,105], "labelExpr": "datum.value % 30 === 0 ? datum.label : ''", "tickOpacity": {"condition": {"test": "datum.value % 30 === 0", "value": 1}, "value": 0}, "gridWidth": {"condition": {"test": "datum.value % 30 === 0", "value": 1.1}, "value": 0.55}, "grid": true, "gridColor": "#EBEBEB", "domain": false, "tickColor": "#333333", "tickSize": 3, "labelColor": "#4D4D4D", "labelFontSize": 11, "labelPadding": 2, "title": null}},
       "color": {"field": "src", "type": "nominal", "scale": {"domain": ["road","tyre","brake"], "range": ["#F8766D","#00BA38","#619CFF"]}, "legend": {"title": "em.source", "orient": "none", "legendX": 1770, "legendY": 513, "symbolType": "square", "symbolSize": 400, "symbolStrokeWidth": 0, "titleFontSize": 13.5, "titleFontWeight": "normal", "titleColor": "#000000", "labelFontSize": 11.5, "labelColor": "#000000", "rowPadding": 1.5, "titlePadding": 7, "padding": 0, "labelOffset": 7}},
       "order": {"field": "ord", "type": "quantitative"}
      }},
     {"width": 92, "height": 236, "view": {"stroke": "#333333", "strokeWidth": 1.1}, "data": {"name": "nee"},
      "transform": [{"filter": "datum.region === 'Inner London' && datum.pm === 'PM10'"}, {"calculate": "indexof(['brake','tyre','road'], datum.src)", "as": "ord"}],
      "mark": {"type": "bar"},
      "encoding": {
       "x": {"field": "veh", "type": "nominal", "title": null, "scale": {"domain": ["E6EV","BEV"], "paddingInner": 0.073, "paddingOuter": 0.146}, "axis": {"grid": true, "gridColor": "#EBEBEB", "gridWidth": 1.1, "bandPosition": 0.5, "labels": false, "ticks": false, "domain": false, "title": null}},
       "y": {"field": "val", "type": "quantitative", "stack": "zero", "title": null, "scale": {"domain": [-5.585, 117.285], "nice": false, "zero": false}, "axis": {"values": [0,15,30,45,60,75,90,105], "labels": false, "ticks": false, "domain": false, "grid": true, "gridColor": "#EBEBEB", "gridWidth": {"condition": {"test": "datum.value % 30 === 0", "value": 1.1}, "value": 0.55}, "title": null}},
       "color": {"field": "src", "type": "nominal", "scale": {"domain": ["road","tyre","brake"], "range": ["#F8766D","#00BA38","#619CFF"]}, "legend": {"title": "em.source", "orient": "none", "legendX": 1770, "legendY": 513, "symbolType": "square", "symbolSize": 400, "symbolStrokeWidth": 0, "titleFontSize": 13.5, "titleFontWeight": "normal", "titleColor": "#000000", "labelFontSize": 11.5, "labelColor": "#000000", "rowPadding": 1.5, "titlePadding": 7, "padding": 0, "labelOffset": 7}},
       "order": {"field": "ord", "type": "quantitative"}
      }},
     {"spacing": 0, "hconcat": [
      {"width": 92, "height": 236, "view": {"stroke": "#333333", "strokeWidth": 1.1}, "data": {"name": "nee"},
       "transform": [{"filter": "datum.region === 'Rural' && datum.pm === 'PM10'"}, {"calculate": "indexof(['brake','tyre','road'], datum.src)", "as": "ord"}],
       "mark": {"type": "bar"},
       "encoding": {
        "x": {"field": "veh", "type": "nominal", "title": null, "scale": {"domain": ["E6EV","BEV"], "paddingInner": 0.073, "paddingOuter": 0.146}, "axis": {"grid": true, "gridColor": "#EBEBEB", "gridWidth": 1.1, "bandPosition": 0.5, "labels": false, "ticks": false, "domain": false, "title": null}},
        "y": {"field": "val", "type": "quantitative", "stack": "zero", "title": null, "scale": {"domain": [-5.585, 117.285], "nice": false, "zero": false}, "axis": {"values": [0,15,30,45,60,75,90,105], "labels": false, "ticks": false, "domain": false, "grid": true, "gridColor": "#EBEBEB", "gridWidth": {"condition": {"test": "datum.value % 30 === 0", "value": 1.1}, "value": 0.55}, "title": null}},
        "color": {"field": "src", "type": "nominal", "scale": {"domain": ["road","tyre","brake"], "range": ["#F8766D","#00BA38","#619CFF"]}, "legend": {"title": "em.source", "orient": "none", "legendX": 1770, "legendY": 513, "symbolType": "square", "symbolSize": 400, "symbolStrokeWidth": 0, "titleFontSize": 13.5, "titleFontWeight": "normal", "titleColor": "#000000", "labelFontSize": 11.5, "labelColor": "#000000", "rowPadding": 1.5, "titlePadding": 7, "padding": 0, "labelOffset": 7}},
        "order": {"field": "ord", "type": "quantitative"}
       }},
      {"width": 25, "height": 236, "data": {"values": [{"lab": "PM₁₀"}]}, "layer": [
        {"mark": {"type": "rect", "fill": "#D9D9D9", "stroke": "#333333", "strokeWidth": 1.1}, "encoding": {}},
        {"mark": {"type": "text", "angle": 90, "fontSize": 11.5, "color": "#1A1A1A"}, "encoding": {"text": {"field": "lab"}}}
      ]}
     ]}
    ]},
    {"spacing": 8, "hconcat": [
     {"width": 91, "height": 237, "view": {"stroke": "#333333", "strokeWidth": 1.1}, "data": {"name": "nee"},
      "transform": [{"filter": "datum.region === 'Outer London' && datum.pm === 'PM2.5'"}, {"calculate": "indexof(['brake','tyre','road'], datum.src)", "as": "ord"}],
      "mark": {"type": "bar"},
      "encoding": {
       "x": {"field": "veh", "type": "nominal", "title": null, "scale": {"domain": ["E6EV","BEV"], "paddingInner": 0.073, "paddingOuter": 0.146}, "axis": {"grid": true, "gridColor": "#EBEBEB", "gridWidth": 1.1, "bandPosition": 0.5, "domain": false, "ticks": true, "tickSize": 3, "tickColor": "#333333", "labelColor": "#4D4D4D", "labelFontSize": 11, "labelPadding": 2, "labelAngle": 0, "title": null}},
       "y": {"field": "val", "type": "quantitative", "stack": "zero", "title": null, "scale": {"domain": [-2.835, 59.535], "nice": false, "zero": false}, "axis": {"values": [0,10,20,30,40,50], "labelExpr": "datum.value % 20 === 0 ? datum.label : ''", "tickOpacity": {"condition": {"test": "datum.value % 20 === 0", "value": 1}, "value": 0}, "gridWidth": {"condition": {"test": "datum.value % 20 === 0", "value": 1.1}, "value": 0.55}, "grid": true, "gridColor": "#EBEBEB", "domain": false, "tickColor": "#333333", "tickSize": 3, "labelColor": "#4D4D4D", "labelFontSize": 11, "labelPadding": 2, "title": null}},
       "color": {"field": "src", "type": "nominal", "scale": {"domain": ["road","tyre","brake"], "range": ["#F8766D","#00BA38","#619CFF"]}, "legend": {"title": "em.source", "orient": "none", "legendX": 1770, "legendY": 513, "symbolType": "square", "symbolSize": 400, "symbolStrokeWidth": 0, "titleFontSize": 13.5, "titleFontWeight": "normal", "titleColor": "#000000", "labelFontSize": 11.5, "labelColor": "#000000", "rowPadding": 1.5, "titlePadding": 7, "padding": 0, "labelOffset": 7}},
       "order": {"field": "ord", "type": "quantitative"}
      }},
     {"width": 92, "height": 237, "view": {"stroke": "#333333", "strokeWidth": 1.1}, "data": {"name": "nee"},
      "transform": [{"filter": "datum.region === 'Inner London' && datum.pm === 'PM2.5'"}, {"calculate": "indexof(['brake','tyre','road'], datum.src)", "as": "ord"}],
      "mark": {"type": "bar"},
      "encoding": {
       "x": {"field": "veh", "type": "nominal", "title": null, "scale": {"domain": ["E6EV","BEV"], "paddingInner": 0.073, "paddingOuter": 0.146}, "axis": {"grid": true, "gridColor": "#EBEBEB", "gridWidth": 1.1, "bandPosition": 0.5, "domain": false, "ticks": true, "tickSize": 3, "tickColor": "#333333", "labelColor": "#4D4D4D", "labelFontSize": 11, "labelPadding": 2, "labelAngle": 0, "title": null}},
       "y": {"field": "val", "type": "quantitative", "stack": "zero", "title": null, "scale": {"domain": [-2.835, 59.535], "nice": false, "zero": false}, "axis": {"values": [0,10,20,30,40,50], "labels": false, "ticks": false, "domain": false, "grid": true, "gridColor": "#EBEBEB", "gridWidth": {"condition": {"test": "datum.value % 20 === 0", "value": 1.1}, "value": 0.55}, "title": null}},
       "color": {"field": "src", "type": "nominal", "scale": {"domain": ["road","tyre","brake"], "range": ["#F8766D","#00BA38","#619CFF"]}, "legend": {"title": "em.source", "orient": "none", "legendX": 1770, "legendY": 513, "symbolType": "square", "symbolSize": 400, "symbolStrokeWidth": 0, "titleFontSize": 13.5, "titleFontWeight": "normal", "titleColor": "#000000", "labelFontSize": 11.5, "labelColor": "#000000", "rowPadding": 1.5, "titlePadding": 7, "padding": 0, "labelOffset": 7}},
       "order": {"field": "ord", "type": "quantitative"}
      }},
     {"spacing": 0, "hconcat": [
      {"width": 92, "height": 237, "view": {"stroke": "#333333", "strokeWidth": 1.1}, "data": {"name": "nee"},
       "transform": [{"filter": "datum.region === 'Rural' && datum.pm === 'PM2.5'"}, {"calculate": "indexof(['brake','tyre','road'], datum.src)", "as": "ord"}],
       "mark": {"type": "bar"},
       "encoding": {
        "x": {"field": "veh", "type": "nominal", "title": null, "scale": {"domain": ["E6EV","BEV"], "paddingInner": 0.073, "paddingOuter": 0.146}, "axis": {"grid": true, "gridColor": "#EBEBEB", "gridWidth": 1.1, "bandPosition": 0.5, "domain": false, "ticks": true, "tickSize": 3, "tickColor": "#333333", "labelColor": "#4D4D4D", "labelFontSize": 11, "labelPadding": 2, "labelAngle": 0, "title": null}},
        "y": {"field": "val", "type": "quantitative", "stack": "zero", "title": null, "scale": {"domain": [-2.835, 59.535], "nice": false, "zero": false}, "axis": {"values": [0,10,20,30,40,50], "labels": false, "ticks": false, "domain": false, "grid": true, "gridColor": "#EBEBEB", "gridWidth": {"condition": {"test": "datum.value % 20 === 0", "value": 1.1}, "value": 0.55}, "title": null}},
        "color": {"field": "src", "type": "nominal", "scale": {"domain": ["road","tyre","brake"], "range": ["#F8766D","#00BA38","#619CFF"]}, "legend": {"title": "em.source", "orient": "none", "legendX": 1770, "legendY": 513, "symbolType": "square", "symbolSize": 400, "symbolStrokeWidth": 0, "titleFontSize": 13.5, "titleFontWeight": "normal", "titleColor": "#000000", "labelFontSize": 11.5, "labelColor": "#000000", "rowPadding": 1.5, "titlePadding": 7, "padding": 0, "labelOffset": 7}},
        "order": {"field": "ord", "type": "quantitative"}
       }},
      {"width": 25, "height": 237, "data": {"values": [{"lab": "PM₂.₅"}]}, "layer": [
        {"mark": {"type": "rect", "fill": "#D9D9D9", "stroke": "#333333", "strokeWidth": 1.1}, "encoding": {}},
        {"mark": {"type": "text", "angle": 90, "fontSize": 11.5, "color": "#1A1A1A"}, "encoding": {"text": {"field": "lab"}}}
      ]}
     ]}
    ]}
   ]}
  ]}
 ]}
]}
]
}
]
}
